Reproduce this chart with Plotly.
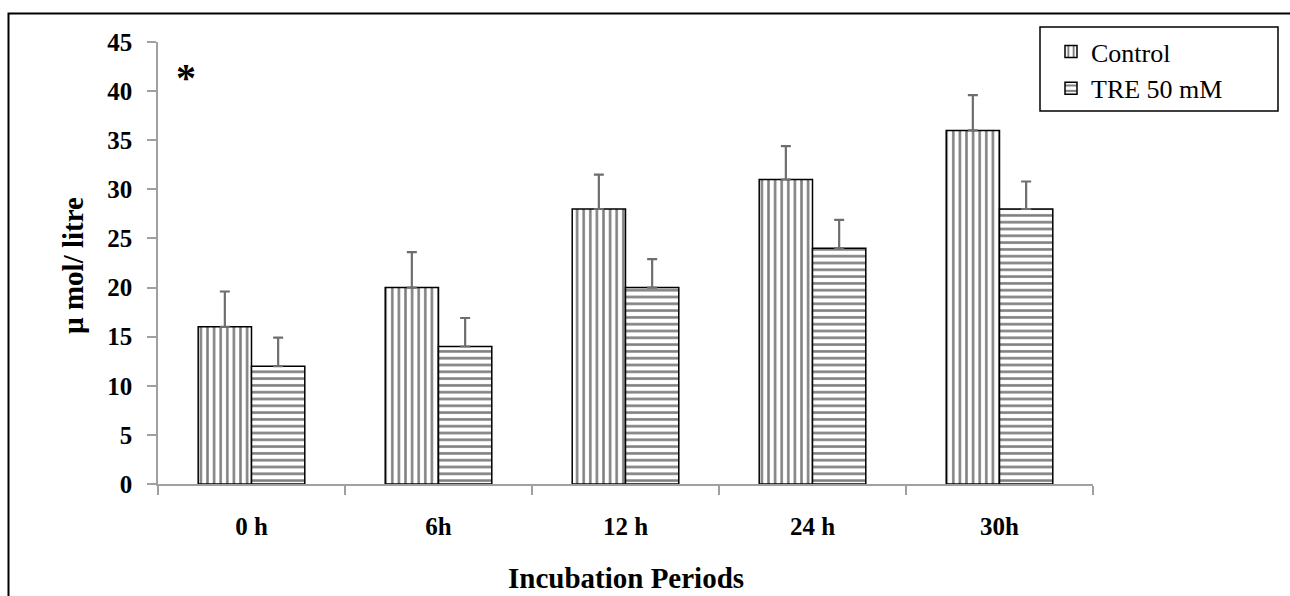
import plotly.graph_objects as go

categories = ["0 h", "6h", "12 h", "24 h", "30h"]
control = [16, 20, 28, 31, 36]
control_err = [3.6, 3.6, 3.5, 3.4, 3.6]
tre = [12, 14, 20, 24, 28]
tre_err = [2.9, 2.9, 2.9, 2.9, 2.8]
y_ticks = [0, 5, 10, 15, 20, 25, 30, 35, 40, 45]

FONT = "Liberation Serif"
AXIS_GRAY = "#a0a0a0"

# plot-area pixel geometry (for converting pixel positions to paper coords)
L, R, T, B = 158, 1093, 42, 484
PW, PH = R - L, B - T


def px(x):
    return (x - L) / PW


def py(y):
    return (B - y) / PH


fig = go.Figure()
fig.add_trace(go.Bar(
    x=categories, y=control, name="Control",
    marker=dict(color="white", line=dict(color="black", width=1.5),
                pattern=dict(shape="|", fgcolor="black", bgcolor="white", size=6.6, solidity=0.38)),
    error_y=dict(type="data", array=control_err, visible=True, color="#6e6e6e",
                 thickness=2.2, width=5, symmetric=False, arrayminus=[0] * 5),
))
fig.add_trace(go.Bar(
    x=categories, y=tre, name="TRE 50 mM",
    marker=dict(color="white", line=dict(color="black", width=1.5),
                pattern=dict(shape="-", fgcolor="black", bgcolor="white", size=6.8, solidity=0.38)),
    error_y=dict(type="data", array=tre_err, visible=True, color="#6e6e6e",
                 thickness=2.2, width=5, symmetric=False, arrayminus=[0] * 5),
))

fig.update_layout(
    width=1290, height=596,
    margin=dict(l=L, r=1290 - R, t=T, b=596 - B),
    paper_bgcolor="white", plot_bgcolor="white",
    barmode="group", bargap=0.43, bargroupgap=0,
    font=dict(family=FONT, color="black"),
    showlegend=True,
    legend=dict(x=px(1051), y=py(28), xanchor="left", yanchor="top",
                borderwidth=0, bgcolor="rgba(0,0,0,0)",
                font=dict(family=FONT, size=26), itemwidth=30),
    xaxis=dict(showline=True, linecolor=AXIS_GRAY, linewidth=1.5,
               ticks="outside", tickson="boundaries", ticklen=9, tickcolor=AXIS_GRAY, tickwidth=1.5,
               tickfont=dict(family=FONT, size=25, weight="bold"),
               ticklabelstandoff=19, showgrid=False),
    yaxis=dict(range=[0, 45], tickvals=y_ticks, showline=True, linecolor=AXIS_GRAY, linewidth=1.5,
               ticks="outside", ticklen=9, tickcolor=AXIS_GRAY, tickwidth=1.5,
               tickfont=dict(family=FONT, size=25, weight="bold"),
               ticklabelstandoff=10, showgrid=False, zeroline=False),
    annotations=[
        dict(text="<b>µ mol/ litre</b>", xref="paper", yref="paper", x=px(73), y=py(266),
             xanchor="center", yanchor="middle",
             textangle=-90, showarrow=False, font=dict(family=FONT, size=29)),
        dict(text="<b>Incubation Periods</b>", xref="paper", yref="paper", x=0.5, y=py(578),
             xanchor="center", yanchor="middle", showarrow=False, font=dict(family=FONT, size=29)),
        dict(text="<b>*</b>", xref="paper", yref="paper", x=px(185.5), y=py(77),
             xanchor="center", yanchor="middle", showarrow=False, font=dict(family=FONT, size=40)),
    ],
    shapes=[
        dict(type="rect", xref="paper", yref="paper",
             x0=px(8.5), x1=1.4, y0=-0.4, y1=py(13.5),
             line=dict(color="black", width=2), fillcolor="rgba(0,0,0,0)", layer="below"),
        dict(type="rect", xref="paper", yref="paper",
             x0=px(1040), x1=px(1278), y0=py(111), y1=py(27),
             line=dict(color="black", width=1.5), fillcolor="white", layer="below"),
    ],
)

fig.write_html("out.html")
